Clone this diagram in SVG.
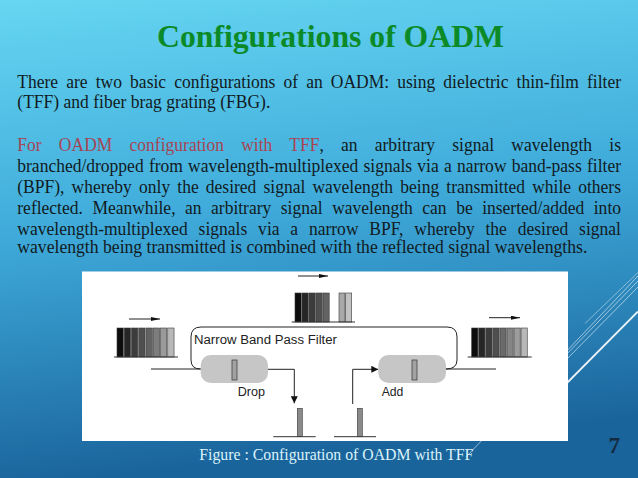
<svg xmlns="http://www.w3.org/2000/svg" width="638" height="478" viewBox="0 0 638 478">
<defs>
<linearGradient id="bg" x1="0" y1="0" x2="0.15" y2="1">
<stop offset="0" stop-color="#66d6f2"/>
<stop offset="0.5" stop-color="#3ea9d9"/>
<stop offset="1" stop-color="#1a649c"/>
</linearGradient>
<marker id="ah" viewBox="0 0 10 10" refX="10" refY="5" markerWidth="7" markerHeight="7" markerUnits="userSpaceOnUse" orient="auto">
<path d="M0,0 L10,5 L0,10 z" fill="#111"/>
</marker>
<marker id="sa" viewBox="0 0 10 10" refX="10" refY="5" markerWidth="9" markerHeight="4" markerUnits="userSpaceOnUse" orient="auto" preserveAspectRatio="none">
<path d="M0,0 L10,5 L0,10 z" fill="#111"/>
</marker>
</defs>
<style>
.serif{font-family:"Liberation Serif","Times New Roman",serif}
.body{font-family:"Liberation Serif","Times New Roman",serif;font-size:17.5px;fill:#111a22}
.red{fill:#a84452}
.fig{font-family:"Liberation Sans",Arial,sans-serif;font-size:12.5px;fill:#222}
.bar{stroke:#3a3a3a;stroke-width:0.6}
.base{stroke:#333;stroke-width:1}
.wire{stroke:#222;stroke-width:1;fill:none}
.deco{stroke:#ffffff;fill:none}
</style>
<rect x="0" y="0" width="638" height="478" fill="url(#bg)"/>
<g id="decoration">
<line class="deco" x1="585" y1="323.5" x2="638" y2="272.5" stroke-width="0.8" stroke-opacity="0.55"/>
<line class="deco" x1="466" y1="457" x2="638" y2="276" stroke-width="0.8" stroke-opacity="0.7"/>
<line class="deco" x1="560" y1="361" x2="638" y2="281" stroke-width="0.8" stroke-opacity="0.7"/>
<line class="deco" x1="560" y1="366" x2="638" y2="287" stroke-width="0.8" stroke-opacity="0.7"/>
<line class="deco" x1="560" y1="390" x2="638" y2="311.5" stroke-width="1.8" stroke-opacity="0.9"/>
</g>
<text class="serif" x="157" y="47.3" font-weight="bold" font-size="32" fill="#0d8a28" textLength="347" lengthAdjust="spacingAndGlyphs">Configurations of OADM</text>
<g id="paragraph1" class="body" transform="scale(1,1.09)">
<text x="17.3" y="80.46" word-spacing="3.76" textLength="603.7" lengthAdjust="spacing">There are two basic configurations of an OADM: using dielectric thin-film filter</text>
<text x="17.3" y="99.36" textLength="253" lengthAdjust="spacingAndGlyphs">(TFF) and fiber brag grating (FBG).</text>
</g>
<g id="paragraph2" class="body" transform="scale(1,1.09)">
<text x="17.3" y="138.26" word-spacing="12.85" textLength="603.7" lengthAdjust="spacing"><tspan class="red">For OADM configuration with TFF</tspan>, an arbitrary signal wavelength is</text>
<text x="17.3" y="157.52" word-spacing="0.86" textLength="603.7" lengthAdjust="spacing">branched/dropped from wavelength-multiplexed signals via a narrow band-pass filter</text>
<text x="17.3" y="176.79" word-spacing="2.77" textLength="603.7" lengthAdjust="spacing">(BPF), whereby only the desired signal wavelength being transmitted while others</text>
<text x="17.3" y="196.33" word-spacing="5.14" textLength="603.7" lengthAdjust="spacing">reflected. Meanwhile, an arbitrary signal wavelength can be inserted/added into</text>
<text x="17.3" y="215.6" word-spacing="6.38" textLength="603.7" lengthAdjust="spacing">wavelength-multiplexed signals via a narrow BPF, whereby the desired signal</text>
<text x="17.3" y="231.83" textLength="570" lengthAdjust="spacingAndGlyphs">wavelength being transmitted is combined with the reflected signal wavelengths.</text>
</g>
<g id="figure">
<rect x="82" y="271.5" width="486" height="169.5" fill="#ffffff"/>
<g id="filter-loop">
<path class="wire" d="M200.5,369 Q191,369 191,360 L191,337 Q191,327 201,327 L447,327 Q457,327 457,337 L457,360 Q457,369 446,369"/>
<text class="fig" x="194" y="344" textLength="143" lengthAdjust="spacingAndGlyphs">Narrow Band Pass Filter</text>
</g>
<g id="connectors">
<line class="wire" x1="151" y1="369" x2="201" y2="369"/>
<line class="wire" x1="445" y1="369" x2="496" y2="369"/>
<polyline class="wire" points="268,369.3 294.3,369.3 294.3,403.3" marker-end="url(#ah)"/>
<polyline class="wire" points="352.7,404 352.7,369.3 378.3,369.3" marker-end="url(#ah)"/>
<line class="wire" x1="129" y1="319" x2="160" y2="319" marker-end="url(#sa)"/>
<line class="wire" x1="298" y1="276" x2="328" y2="276" marker-end="url(#sa)"/>
<line class="wire" x1="489" y1="317.7" x2="520" y2="317.7" marker-end="url(#sa)"/>
</g>
<g id="drop-filter">
<rect x="200.7" y="355" width="67.3" height="28" rx="10" fill="#c6c6c6"/>
<rect x="232" y="360" width="5" height="20" fill="#a2a2a2" stroke="#444" stroke-width="0.8"/>
<text class="fig" x="237.7" y="395.7" textLength="27.3" lengthAdjust="spacingAndGlyphs">Drop</text>
</g>
<g id="add-filter">
<rect x="378.3" y="355" width="67.7" height="28" rx="10" fill="#c6c6c6"/>
<rect x="412" y="360" width="5" height="20" fill="#a2a2a2" stroke="#444" stroke-width="0.8"/>
<text class="fig" x="381.7" y="395.7" textLength="21.7" lengthAdjust="spacingAndGlyphs">Add</text>
</g>
<g id="input-spectrum">
<rect class="bar" x="117" y="328" width="6.3" height="29" fill="#0d0d0d"/>
<rect class="bar" x="124.25" y="328" width="6.3" height="29" fill="#262626"/>
<rect class="bar" x="131.5" y="328" width="6.3" height="29" fill="#3c3c3c"/>
<rect class="bar" x="138.75" y="328" width="6.3" height="29" fill="#4f4f4f"/>
<rect class="bar" x="146" y="328" width="6.3" height="29" fill="#636363"/>
<rect class="bar" x="153.25" y="328" width="6.3" height="29" fill="#7d7d7d"/>
<rect class="bar" x="160.5" y="328" width="6.3" height="29" fill="#9a9a9a"/>
<rect class="bar" x="167.75" y="328" width="6.3" height="29" fill="#b8b8b8"/>
<line class="base" x1="114" y1="357" x2="178" y2="357"/>
</g>
<g id="through-spectrum">
<rect class="bar" x="295" y="293" width="6.2" height="29" fill="#0d0d0d"/>
<rect class="bar" x="302" y="293" width="6.2" height="29" fill="#262626"/>
<rect class="bar" x="309" y="293" width="6.2" height="29" fill="#3c3c3c"/>
<rect class="bar" x="316" y="293" width="6.2" height="29" fill="#4f4f4f"/>
<rect class="bar" x="323" y="293" width="6.2" height="29" fill="#636363"/>
<rect class="bar" x="339" y="293" width="6" height="29" fill="#a8a8a8"/>
<rect class="bar" x="345.7" y="293" width="6" height="29" fill="#c2c2c2"/>
<line class="base" x1="291.7" y1="322" x2="355" y2="322"/>
</g>
<g id="output-spectrum">
<rect class="bar" x="471.7" y="328" width="6.2" height="29" fill="#0d0d0d"/>
<rect class="bar" x="478.75" y="328" width="6.2" height="29" fill="#262626"/>
<rect class="bar" x="485.8" y="328" width="6.2" height="29" fill="#3c3c3c"/>
<rect class="bar" x="492.85" y="328" width="6.2" height="29" fill="#4f4f4f"/>
<rect class="bar" x="499.9" y="328" width="6.2" height="29" fill="#6a6a6a"/>
<rect class="bar" x="506.95" y="328" width="6.2" height="29" fill="#858585"/>
<rect class="bar" x="514" y="328" width="6.2" height="29" fill="#9c9c9c"/>
<rect class="bar" x="521.05" y="328" width="6.2" height="29" fill="#b8b8b8"/>
<line class="base" x1="467.7" y1="357" x2="531.7" y2="357"/>
</g>
<g id="drop-spectrum">
<rect class="bar" x="297.3" y="408.3" width="5" height="28.4" fill="#8a8a8a"/>
<line class="base" x1="273.3" y1="436.7" x2="315.7" y2="436.7"/>
</g>
<g id="add-spectrum">
<rect class="bar" x="357.3" y="408.3" width="5" height="28.4" fill="#8a8a8a"/>
<line class="base" x1="334" y1="436.7" x2="376" y2="436.7"/>
</g>
</g>
<text class="serif" x="199.3" y="460" font-size="16" fill="#dcf3fa" textLength="274" lengthAdjust="spacingAndGlyphs">Figure : Configuration of OADM with TFF</text>
<text class="serif" x="608.5" y="453.3" font-weight="bold" font-size="23" fill="#142a40">7</text>
</svg>
